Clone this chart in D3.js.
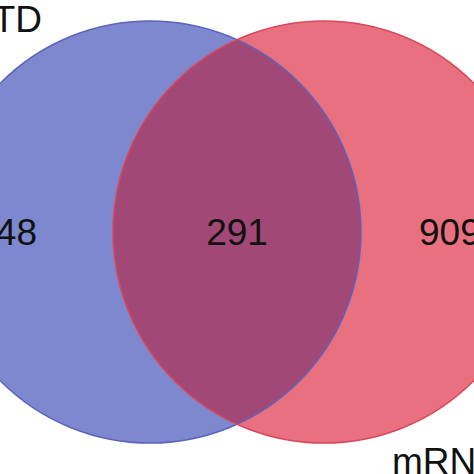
<!DOCTYPE html>
<html><head><meta charset="utf-8">
<script src="https://cdn.jsdelivr.net/npm/d3@7"></script>
<style>body{margin:0;background:#fff}</style>
</head><body>
<script>
const setNames = ['TD', 'mRNA']
const onlyCounts = [248, 909]
const sharedCount = 291
const fills = ['#7d88cf', '#e8707f']
const strokes = ['#5d63bb', '#d9475d']
const overlapFill = '#a24877'

const W = 474, H = 474
const R = 211
// circle centres in data units
const x = d3.scaleLinear().domain([0, 1]).range([150, 324])
const cy = 232

const svg = d3.select('body').append('svg').attr('width', W).attr('height', H)

svg.append('clipPath').attr('id', 'clipL')
  .append('circle').attr('cx', x(0)).attr('cy', cy).attr('r', R)

svg.selectAll('.set').data(setNames).enter().append('circle')
  .attr('cx', (d, i) => x(i)).attr('cy', cy).attr('r', R)
  .attr('fill', (d, i) => fills[i])

svg.append('circle').attr('cx', x(1)).attr('cy', cy).attr('r', R)
  .attr('clip-path', 'url(#clipL)').attr('fill', overlapFill)

svg.selectAll('.edge').data(setNames).enter().append('circle')
  .attr('cx', (d, i) => x(i)).attr('cy', cy).attr('r', R)
  .attr('fill', 'none').attr('stroke', (d, i) => strokes[i]).attr('stroke-width', 1.5)

const font = 'Liberation Sans, Arial, sans-serif'
const lab = (t, px, py, anchor) => svg.append('text').text(t)
  .attr('x', px).attr('y', py).attr('text-anchor', anchor)
  .attr('font-family', font).attr('font-size', 37).attr('fill', '#111')

lab(onlyCounts[0], 37, 245, 'end')
lab(sharedCount, 237, 245, 'middle')
lab(onlyCounts[1], 419, 245, 'start')
lab(setNames[0], 42, 32, 'end')
lab(setNames[1], 392, 474, 'start')
</script>
</body></html>
